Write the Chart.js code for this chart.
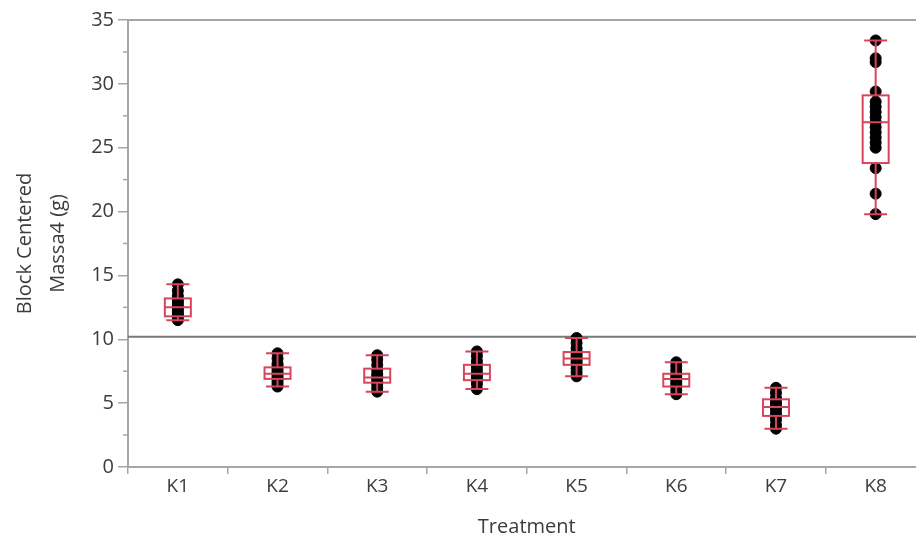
<!DOCTYPE html>
<html>
<head>
<meta charset="utf-8">
<script src="https://cdn.jsdelivr.net/npm/chart.js@4.4.1/dist/chart.umd.min.js"></script>
<style>
    html, body { margin: 0; padding: 0; background: #fff; overflow: hidden; }
    #wrap { width: 916px; height: 541px; overflow: hidden; position: relative; }
    #inner { position: absolute; left: 0; top: 0; width: 932px; height: 541px; }
</style>
</head>
<body>
<div id="wrap"><div id="inner"><canvas id="massChart"></canvas></div></div>
<script>
// treatments and individual observations
const treatments = ["K1", "K2", "K3", "K4", "K5", "K6", "K7", "K8"];
const k1 = [14.3, 13.8, 13.4, 13.1, 12.9, 12.7, 12.5, 12.4, 12.2, 12.0, 11.9, 11.7, 11.5];
const k2 = [8.9, 8.5, 8.1, 7.9, 7.7, 7.5, 7.3, 7.1, 6.9, 6.7, 6.5, 6.3];
const k3 = [8.75, 8.4, 8.0, 7.6, 7.3, 7.1, 6.9, 6.7, 6.5, 6.2, 5.9];
const k4 = [9.05, 8.7, 8.3, 8.0, 7.7, 7.4, 7.2, 7.0, 6.8, 6.5, 6.1];
const k5 = [10.1, 9.7, 9.3, 9.0, 8.8, 8.6, 8.4, 8.2, 8.0, 7.7, 7.4, 7.1];
const k6 = [8.2, 7.9, 7.6, 7.3, 7.1, 6.9, 6.7, 6.5, 6.3, 6.0, 5.7];
const k7 = [6.2, 5.8, 5.4, 5.1, 4.9, 4.7, 4.5, 4.2, 4.0, 3.7, 3.3, 3.0];
const k8 = [33.4, 32.0, 31.7, 29.4, 28.6, 28.2, 27.8, 27.4, 27.0, 26.6, 26.2, 25.8, 25.4, 25.0, 23.4, 21.4, 19.8];

// box plot summaries per treatment
const whiskerLow = [11.5, 6.3, 5.9, 6.1, 7.1, 5.7, 3.0, 19.8];
const quartile1 = [11.8, 6.9, 6.6, 6.8, 8.0, 6.3, 4.0, 23.8];
const medians = [12.5, 7.3, 7.0, 7.3, 8.5, 6.9, 4.7, 27.0];
const quartile3 = [13.2, 7.8, 7.7, 8.0, 9.0, 7.3, 5.3, 29.1];
const whiskerHigh = [14.3, 8.9, 8.75, 9.05, 10.1, 8.2, 6.2, 33.4];

const grandMean = 10.2;
const yTicks = [0, 5, 10, 15, 20, 25, 30, 35];
const yMinorTicks = [2.5, 7.5, 12.5, 17.5, 22.5, 27.5, 32.5];

const groups = [k1, k2, k3, k4, k5, k6, k7, k8];
const points = [];
groups.forEach((g, i) => {
    g.forEach((v) => points.push({ x: treatments[i], y: v }));
});

const boxRed = "#d8455b";
const axisGray = "#a6a6a6";
const textColor = "#3c3c3c";

const boxPlugin = {
    id: "boxPlugin",
    beforeDatasetsDraw(chart) {
        const { ctx, chartArea, scales } = chart;
        const y = scales.y.getPixelForValue(grandMean);
        ctx.save();
        ctx.strokeStyle = "#7a7a7a";
        ctx.lineWidth = 2;
        ctx.beginPath();
        ctx.moveTo(chartArea.left, y);
        ctx.lineTo(chartArea.right, y);
        ctx.stroke();
        // top frame line
        ctx.strokeStyle = axisGray;
        ctx.beginPath();
        ctx.moveTo(chartArea.left, chartArea.top);
        ctx.lineTo(chartArea.right, chartArea.top);
        ctx.stroke();
        // minor ticks on y
        ctx.lineWidth = 1.5;
        yMinorTicks.forEach((v) => {
            const py = scales.y.getPixelForValue(v);
            ctx.beginPath();
            ctx.moveTo(chartArea.left - 5, py);
            ctx.lineTo(chartArea.left, py);
            ctx.stroke();
        });
        ctx.restore();
    },
    afterDatasetsDraw(chart) {
        const { ctx, scales } = chart;
        const half = 13;
        const cap = 11.5;
        ctx.save();
        ctx.strokeStyle = boxRed;
        ctx.lineWidth = 2;
        treatments.forEach((t, i) => {
            const x = scales.x.getPixelForValue(i);
            const yLo = scales.y.getPixelForValue(whiskerLow[i]);
            const yQ1 = scales.y.getPixelForValue(quartile1[i]);
            const yMed = scales.y.getPixelForValue(medians[i]);
            const yQ3 = scales.y.getPixelForValue(quartile3[i]);
            const yHi = scales.y.getPixelForValue(whiskerHigh[i]);
            ctx.beginPath();
            ctx.moveTo(x, yHi); ctx.lineTo(x, yQ3);
            ctx.moveTo(x, yQ1); ctx.lineTo(x, yLo);
            ctx.moveTo(x - cap, yHi); ctx.lineTo(x + cap, yHi);
            ctx.moveTo(x - cap, yLo); ctx.lineTo(x + cap, yLo);
            ctx.moveTo(x - half, yMed); ctx.lineTo(x + half, yMed);
            ctx.stroke();
            ctx.strokeRect(x - half, yQ3, half * 2, yQ1 - yQ3);
        });
        ctx.restore();
    },
};

const massChart = new Chart(document.getElementById("massChart"), {
    type: "scatter",
    data: {
        labels: treatments,
        datasets: [
            {
                label: "Massa4",
                data: points,
                backgroundColor: "#000",
                borderColor: "#000",
                pointRadius: 5.5,
                pointHoverRadius: 5.5,
            },
        ],
    },
    options: {
        responsive: true,
        maintainAspectRatio: false,
        animation: false,
        layout: { padding: { top: 20, right: 0, bottom: 0, left: 0 } },
        plugins: { legend: { display: false }, tooltip: { enabled: false } },
        scales: {
            x: {
                type: "category",
                labels: treatments,
                offset: true,
                grid: { offset: true, drawOnChartArea: false, tickLength: 7, color: axisGray, lineWidth: 1.5 },
                border: { color: axisGray, width: 2 },
                ticks: { color: textColor, font: { family: "Open Sans", size: 19 }, padding: 1, maxRotation: 0 },
                title: {
                    display: true,
                    text: "Treatment",
                    color: textColor,
                    font: { family: "Open Sans", size: 20 },
                    padding: { top: 4, bottom: 2 },
                },
                afterFit: (s) => {
                    s.height = 74;
                    s.paddingLeft = 0;
                    s.paddingRight = 0;
                },
            },
            y: {
                min: 0,
                max: 35,
                afterBuildTicks: (s) => { s.ticks = yTicks.map((v) => ({ value: v })); },
                grid: { drawOnChartArea: false, tickLength: 10, color: axisGray, lineWidth: 1.5 },
                border: { color: axisGray, width: 2 },
                ticks: { color: textColor, font: { family: "Open Sans", size: 20 }, padding: 4 },
                title: {
                    display: true,
                    text: ["Block Centered", "Massa4 (g)"],
                    color: textColor,
                    font: { family: "Open Sans", size: 20, lineHeight: 1.65 },
                    padding: { top: 9, bottom: 0 },
                },
                afterFit: (s) => { s.width = 128; },
            },
        },
    },
    plugins: [boxPlugin],
});
</script>
</body>
</html>
